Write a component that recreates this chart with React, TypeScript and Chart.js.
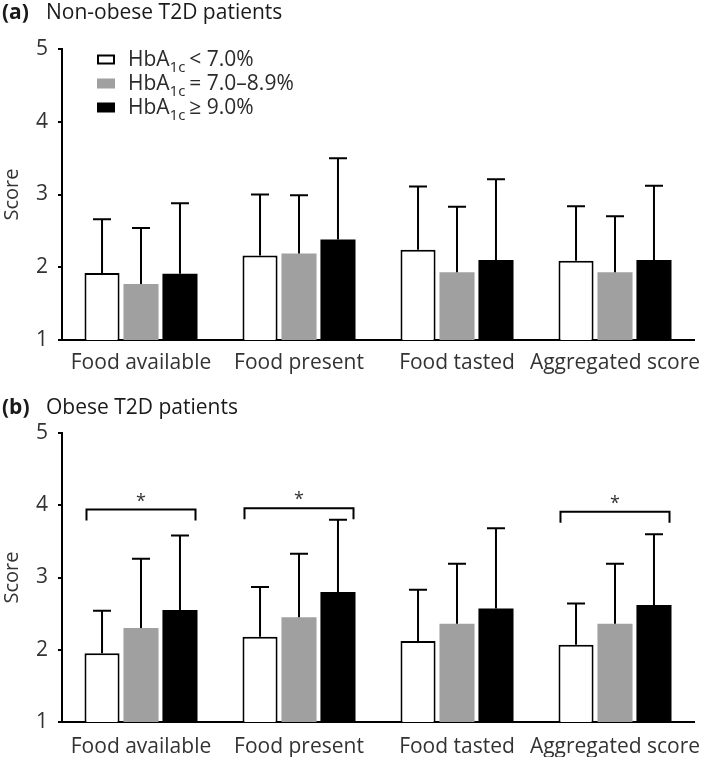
import React, { useEffect, useRef } from "react";
import { Chart, registerables } from "chart.js";
Chart.register(...registerables);

const categories = ["Food available", "Food present", "Food tasted", "Aggregated score"];
const seriesSuffix = ["< 7.0%", "= 7.0–8.9%", "≥ 9.0%"];
const yTickValues = [1, 2, 3, 4, 5];

// Panel (a) Non-obese: means and SD
const nonObeseLow = [1.92, 2.16, 2.24, 2.09];
const nonObeseMid = [1.77, 2.19, 1.93, 1.93];
const nonObeseHigh = [1.91, 2.38, 2.1, 2.1];
const nonObeseLowSD = [0.74, 0.84, 0.87, 0.75];
const nonObeseMidSD = [0.77, 0.8, 0.9, 0.77];
const nonObeseHighSD = [0.97, 1.12, 1.11, 1.02];

// Panel (b) Obese: means and SD
const obeseLow = [1.95, 2.18, 2.12, 2.07];
const obeseMid = [2.3, 2.45, 2.36, 2.36];
const obeseHigh = [2.55, 2.8, 2.57, 2.62];
const obeseLowSD = [0.59, 0.69, 0.71, 0.57];
const obeseMidSD = [0.96, 0.88, 0.83, 0.83];
const obeseHighSD = [1.03, 1.0, 1.11, 0.98];

// Significance brackets in panel (b)
const bracketCategories = [0, 1, 3];
const bracketLevels = [3.94, 3.96, 3.91];

const FONT = "'Open Sans', 'Noto Sans', sans-serif";
const fillColors = ["#ffffff", "#a0a0a0", "#000000"];

type PanelProps = {
  height: number;
  letter: string;
  title: string;
  titleY: number;
  means: number[][];
  sds: number[][];
  top: number;
  xAxisHeight: number;
  labelPad: number;
  showLegend: boolean;
  brackets: boolean;
};

function Panel(p: PanelProps) {
  const ref = useRef<HTMLCanvasElement | null>(null);
  useEffect(() => {
    if (!ref.current) return;
    const errorBars = {
      id: "errorBars",
      afterDatasetsDraw(chart: any) {
        const ctx = chart.ctx;
        const ys = chart.scales.y;
        ctx.save();
        ctx.strokeStyle = "#000";
        ctx.lineWidth = 2;
        chart.data.datasets.forEach((ds: any, i: number) => {
          const meta = chart.getDatasetMeta(i);
          meta.data.forEach((el: any, j: number) => {
            const top = ys.getPixelForValue(ds.data[j] + ds.sd[j]);
            ctx.beginPath();
            ctx.moveTo(el.x, el.y);
            ctx.lineTo(el.x, top);
            ctx.moveTo(el.x - 9, top);
            ctx.lineTo(el.x + 9, top);
            ctx.stroke();
          });
        });
        ctx.restore();
      },
    };
    const decorations = {
      id: "decorations",
      afterDraw(chart: any) {
        const ctx = chart.ctx;
        ctx.save();
        // panel title
        ctx.fillStyle = "#1a1a1a";
        ctx.textBaseline = "middle";
        ctx.textAlign = "left";
        ctx.font = `bold 21px ${FONT}`;
        ctx.fillText(p.letter, 2, p.titleY);
        ctx.font = `21px ${FONT}`;
        ctx.fillText(p.title, 46, p.titleY);
        // legend
        if (p.showLegend) {
          const rows = [59.5, 83.5, 107.5];
          rows.forEach((cy, i) => {
            ctx.fillStyle = fillColors[i];
            ctx.fillRect(97, cy - 5, 18, 10);
            if (i === 0) {
              ctx.strokeStyle = "#000";
              ctx.lineWidth = 2;
              ctx.strokeRect(98, cy - 4, 16, 8);
            }
            ctx.fillStyle = "#2a2a2a";
            ctx.textBaseline = "alphabetic";
            ctx.font = `21px ${FONT}`;
            const base = cy + 6;
            ctx.fillText("HbA", 128, base);
            const w1 = ctx.measureText("HbA").width;
            ctx.font = `15px ${FONT}`;
            ctx.fillText("1c", 128 + w1, base + 6);
            const w2 = ctx.measureText("1c").width;
            ctx.font = `21px ${FONT}`;
            ctx.fillText(seriesSuffix[i], 128 + w1 + w2 + 4, base);
          });
        }
        // brackets
        if (p.brackets) {
          const ys = chart.scales.y;
          const m0 = chart.getDatasetMeta(0);
          const m2 = chart.getDatasetMeta(2);
          ctx.strokeStyle = "#000";
          ctx.lineWidth = 2;
          bracketCategories.forEach((c, k) => {
            const b0 = m0.data[c];
            const b2 = m2.data[c];
            const left = b0.x - b0.width / 2 + 2;
            const right = b2.x + b2.width / 2 - 2;
            const y = ys.getPixelForValue(bracketLevels[k]);
            ctx.beginPath();
            ctx.moveTo(left, y + 11);
            ctx.lineTo(left, y);
            ctx.lineTo(right, y);
            ctx.lineTo(right, y + 11);
            ctx.stroke();
            ctx.fillStyle = "#333";
            ctx.font = `18px ${FONT}`;
            ctx.textAlign = "center";
            ctx.textBaseline = "middle";
            ctx.fillText("*", (left + right) / 2, y - 8);
          });
        }
        ctx.restore();
      },
    };
    const chart = new Chart(ref.current, {
      type: "bar",
      data: {
        labels: categories,
        datasets: p.means.map((m, i) => ({
          label: "HbA1c " + seriesSuffix[i],
          data: m,
          sd: p.sds[i],
          backgroundColor: fillColors[i],
          borderColor: "#000",
          borderWidth: i === 0 ? 2 : 0,
          categoryPercentage: 0.74,
          barPercentage: 0.9,
        })) as any,
      },
      options: {
        animation: false,
        responsive: false,
        maintainAspectRatio: false,
        layout: { padding: { top: p.top, right: 15, left: 0, bottom: 0 } },
        plugins: { legend: { display: false }, tooltip: { enabled: false }, title: { display: false } },
        scales: {
          x: {
            grid: { display: false },
            border: { display: true, color: "#000", width: 2 },
            ticks: {
              color: "#333",
              font: { family: FONT, size: 21 },
              padding: p.labelPad,
              maxRotation: 0,
              minRotation: 0,
              autoSkip: false,
            },
            afterFit: (s: any) => {
              s.height = p.xAxisHeight;
            },
          },
          y: {
            min: 1,
            max: 5,
            afterBuildTicks: (s: any) => {
              s.ticks = yTickValues.map((v) => ({ value: v }));
            },
            grid: { drawOnChartArea: false, drawTicks: true, tickLength: 4, color: "#000", lineWidth: 2 },
            border: { display: true, color: "#000", width: 2 },
            ticks: { color: "#333", font: { family: FONT, size: 21 }, padding: 10 },
            title: { display: true, text: "Score", color: "#333", font: { family: FONT, size: 20 }, padding: 0 },
            afterFit: (s: any) => {
              s.width = 62;
            },
          },
        },
      },
      plugins: [errorBars, decorations],
    } as any);
    return () => chart.destroy();
  }, []);
  return <canvas ref={ref} width={709} height={p.height} style={{ display: "block", width: 709, height: p.height }} />;
}

export default function App() {
  useEffect(() => {
    document.body.style.margin = "0";
  }, []);
  return (
    <div style={{ width: 709, background: "#fff" }}>
      <Panel
        height={378}
        letter="(a)"
        title="Non-obese T2D patients"
        titleY={13}
        means={[nonObeseLow, nonObeseMid, nonObeseHigh]}
        sds={[nonObeseLowSD, nonObeseMidSD, nonObeseHighSD]}
        top={49}
        xAxisHeight={38}
        labelPad={2}
        showLegend={true}
        brackets={false}
      />
      <Panel
        height={379}
        letter="(b)"
        title="Obese T2D patients"
        titleY={30}
        means={[obeseLow, obeseMid, obeseHigh]}
        sds={[obeseLowSD, obeseMidSD, obeseHighSD]}
        top={55}
        xAxisHeight={35}
        labelPad={4}
        showLegend={false}
        brackets={true}
      />
    </div>
  );
}
